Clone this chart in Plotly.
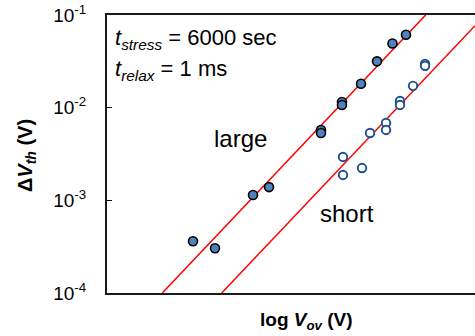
import plotly.graph_objects as go

# log V_ov in arbitrary units (axis shows no tick labels)
large_x = [0.935, 1.174, 1.587, 1.761, 2.326, 2.326, 2.554, 2.554, 2.761, 2.935, 3.103, 3.250]
large_y = [3.62e-4, 3.04e-4, 1.14e-3, 1.39e-3, 5.75e-3, 5.33e-3, 1.15e-2, 1.07e-2, 1.81e-2, 3.16e-2, 4.93e-2, 6.12e-2]

short_x = [2.565, 2.565, 2.772, 2.859, 3.033, 3.033, 3.185, 3.185, 3.326, 3.457, 3.457]
short_y = [2.94e-3, 1.88e-3, 2.23e-3, 5.33e-3, 6.84e-3, 5.75e-3, 1.18e-2, 1.07e-2, 1.72e-2, 2.97e-2, 2.83e-2]

fit_large_x = [0.601, 3.464]
fit_large_y = [1e-4, 1e-1]
fit_short_x = [1.247, 4.0]
fit_short_y = [1e-4, 0.0767]

y_tickvals = [1e-4, 1e-3, 1e-2, 1e-1]
y_ticktext = ["10<sup>-4</sup>", "10<sup>-3</sup>", "10<sup>-2</sup>", "10<sup>-1</sup>"]

FONT = "Liberation Sans, Arial, sans-serif"

fig = go.Figure()
fig.add_trace(go.Scatter(x=fit_large_x, y=fit_large_y, mode="lines",
                         line=dict(color="#ff0000", width=1.5), showlegend=False))
fig.add_trace(go.Scatter(x=fit_short_x, y=fit_short_y, mode="lines",
                         line=dict(color="#ff0000", width=1.5), showlegend=False))
fig.add_trace(go.Scatter(x=large_x, y=large_y, mode="markers",
                         marker=dict(symbol="circle", size=9, color="#4f81bd",
                                     line=dict(color="#000000", width=1.6)),
                         showlegend=False))
fig.add_trace(go.Scatter(x=short_x, y=short_y, mode="markers",
                         marker=dict(symbol="circle", size=8.5, color="#ffffff",
                                     line=dict(color="#1f4e8c", width=1.9)),
                         showlegend=False))

fig.update_layout(
    width=475, height=336,
    margin=dict(l=107, r=0, t=15, b=43),
    paper_bgcolor="white", plot_bgcolor="white",
    font=dict(family=FONT, color="#000000"),
    xaxis=dict(range=[0, 4], showgrid=False, zeroline=False, showticklabels=False,
               ticks="", showline=True, linecolor="#1a1a1a", linewidth=2, mirror=True),
    yaxis=dict(type="log", range=[-4, -1], showgrid=False, zeroline=False,
               tickvals=y_tickvals, ticktext=y_ticktext, ticks="inside", ticklen=5,
               tickwidth=1, tickcolor="#000000", showline=True, linecolor="#1a1a1a",
               linewidth=2, tickfont=dict(size=19, family=FONT), ticklabelstandoff=15),
    annotations=[
        dict(text="<b>log <i>V</i><sub><i>ov</i></sub> (V)</b>", xref="paper", yref="paper",
             x=0.541, y=-0.102, xanchor="center", yanchor="middle", showarrow=False,
             font=dict(size=19, family=FONT)),
        dict(text="<b>Δ<i>V</i><sub><i>th</i></sub> (V)</b>", xref="paper", yref="paper",
             x=-0.217, y=0.493, xanchor="center", yanchor="middle", showarrow=False,
             textangle=-90, font=dict(size=20, family=FONT)),
        dict(text="<i>t</i><sub><i>stress</i></sub> = 6000 sec", xref="paper", yref="paper",
             x=0.016, y=0.915, xanchor="left", yanchor="middle", showarrow=False,
             font=dict(size=22, family=FONT)),
        dict(text="<i>t</i><sub><i>relax</i></sub> = 1 ms", xref="paper", yref="paper",
             x=0.016, y=0.803, xanchor="left", yanchor="middle", showarrow=False,
             font=dict(size=22, family=FONT)),
        dict(text="large", xref="paper", yref="paper",
             x=(240 - 107) / 368, y=(292.7 - 139) / 277.4, xanchor="center", yanchor="middle",
             showarrow=False, font=dict(size=24, family=FONT)),
        dict(text="short", xref="paper", yref="paper",
             x=(347 - 107) / 368, y=(292.7 - 213) / 277.4, xanchor="center", yanchor="middle",
             showarrow=False, font=dict(size=24, family=FONT)),
    ],
)

fig.write_html("out.html")
